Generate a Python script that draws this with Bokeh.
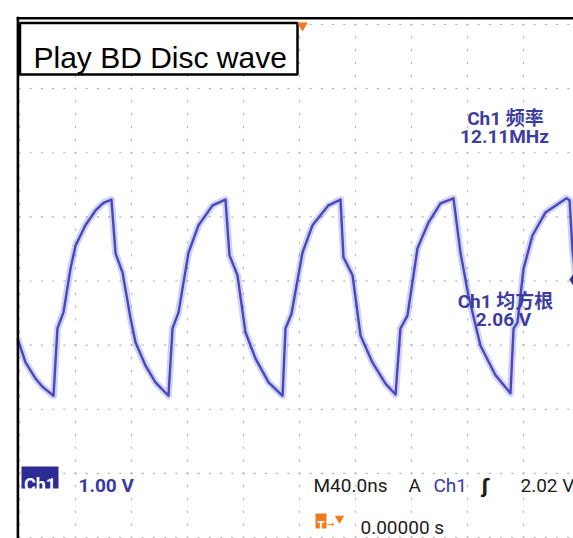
import numpy as np
from bokeh.plotting import figure
from bokeh.models import Range1d, Span, Label, ColumnDataSource
from bokeh.embed import file_html
from bokeh.resources import INLINE

# ---------------- data ----------------
# time in ns (40 ns/div), voltage in V (1.00 V/div, screen centre ~2 V)
time_ns = [-1.4, 4.3, 11.4, 16.4, 24.3, 27.1, 31.4, 36.4, 40.0, 47.1, 54.3, 60.0, 65.7, 68.6, 73.6, 79.3, 82.9, 90.0, 97.1, 106.4,
           109.3, 113.6, 120.7, 127.9, 137.9, 147.1, 150.0, 155.7, 161.4, 168.6, 177.9, 187.9,
           190.0, 194.3, 202.1, 209.3, 220.7, 229.3, 231.4, 237.9, 243.6, 252.1, 261.4, 268.6,
           272.1, 277.1, 284.3, 292.1, 300.7, 310.0, 315.0, 320.7, 329.3, 340.0, 350.7,
           352.9, 355.7, 360.0, 366.4, 375.7, 390.7, 392.9, 395.0, 397.1]
volts = [1.10, 0.73, 0.48, 0.35, 0.21, 1.26, 1.51, 2.19, 2.55, 2.87, 3.10, 3.22, 3.27, 2.43, 2.13, 1.42, 1.04, 0.68, 0.42, 0.21,
         1.26, 1.51, 2.44, 2.87, 3.18, 3.27, 2.40, 2.09, 1.20, 0.79, 0.42, 0.21,
         1.26, 1.49, 2.44, 2.87, 3.18, 3.27, 2.37, 2.09, 1.15, 0.73, 0.40, 0.23,
         1.26, 1.46, 2.51, 2.91, 3.21, 3.29, 2.44, 1.77, 0.99, 0.53, 0.25,
         1.26, 1.35, 2.19, 2.71, 3.07, 3.29, 3.26, 2.48, 2.09]

title_text = "Play BD Disc wave"
freq_label = ["Ch1 频率", "12.11MHz"]
rms_label = ["Ch1 均方根", "2.06 V"]
ch_scale = "1.00 V"
timebase = "M40.0ns"
trig_src = "Ch1"
trig_level = "2.02 V"
trig_pos = "0.00000 s"
trigger_level_v = 2.02

# ---------------- screen mapping ----------------
NS_PER_DIV = 40.0
V_PER_DIV = 1.0
CENTER_V = 2.0
PX_DIV_X = 56.0
PX_DIV_Y = 64.125
GRID_LEFT_PX = 19.0
CENTER_PY = 280.5


def X(px):
    return (px - GRID_LEFT_PX) * NS_PER_DIV / PX_DIV_X


def Y(py):
    return CENTER_V + (CENTER_PY - py) * V_PER_DIV / PX_DIV_Y


p = figure(width=573, height=538, output_backend="svg", toolbar_location=None,
           x_axis_location=None, y_axis_location=None,
           x_range=Range1d(X(16), X(573)), y_range=Range1d(Y(538), Y(16)),
           min_border_left=16, min_border_top=16, min_border_right=0, min_border_bottom=0)
p.outline_line_color = None
p.grid.visible = False
p.background_fill_color = "white"
p.border_fill_color = "white"

# ---------------- graticule (dotted) ----------------
gx, gy = [], []
for k in range(0, 11):
    t = k * NS_PER_DIV
    for j in range(0, 41):
        gx.append(t)
        gy.append(CENTER_V - 4 * V_PER_DIV + j * V_PER_DIV / 5)
p.rect(gx, gy, width=1.2, height=2.2, width_units="screen", height_units="screen",
       color="#b4b4b4", line_color=None)
hx, hy = [], []
for m in range(-4, 5):
    v = CENTER_V + m * V_PER_DIV
    for j in range(0, 51):
        hx.append(j * NS_PER_DIV / 5)
        hy.append(v)
p.rect(hx, hy, width=2.2, height=1.2, width_units="screen", height_units="screen",
       color="#b4b4b4", line_color=None)

# ---------------- waveform ----------------
src = ColumnDataSource(dict(t=time_ns, v=volts))
p.line("t", "v", source=src, line_width=7, line_color="#6a6ad6", line_alpha=0.3, line_join="round")
p.line("t", "v", source=src, line_width=2.4, line_color="#4848bc", line_join="round")

# ---------------- frame lines ----------------
p.add_layout(Span(location=X(17.2), dimension="height", line_color="black", line_width=3))
p.add_layout(Span(location=Y(17.8), dimension="width", line_color="black", line_width=2.5))

# ---------------- title box ----------------
p.quad(left=[X(19.5)], right=[X(297)], top=[Y(22.5)], bottom=[Y(74)],
       fill_color="white", line_color="black", line_width=2.5)
p.add_layout(Label(x=X(33), y=Y(57), text=title_text, text_font="Liberation Sans",
                   text_font_size="30px", text_color="black", text_baseline="alphabetic"))

# ---------------- readouts ----------------
RO = "#3d3d9e"
FONT = "Roboto, Noto Sans CJK SC"
p.add_layout(Label(x=X(505), y=Y(118), text=freq_label[0], text_font=FONT, text_font_size="19px",
                   text_font_style="bold", text_color=RO, text_align="center", text_baseline="alphabetic"))
p.add_layout(Label(x=X(504), y=Y(136), text=freq_label[1], text_font=FONT, text_font_size="19px",
                   text_font_style="bold", text_color=RO, text_align="center", text_baseline="alphabetic"))
p.add_layout(Label(x=X(505), y=Y(301), text=rms_label[0], text_font=FONT, text_font_size="19px",
                   text_font_style="bold", text_color=RO, text_align="center", text_baseline="alphabetic"))
p.add_layout(Label(x=X(503), y=Y(319), text=rms_label[1], text_font=FONT, text_font_size="19px",
                   text_font_style="bold", text_color=RO, text_align="center", text_baseline="alphabetic"))

# ---------------- bottom status line ----------------
p.quad(left=[X(21)], right=[X(58)], top=[Y(466)], bottom=[Y(488)], fill_color="#2c2c94", line_color=None)
p.add_layout(Label(x=X(39.5), y=Y(484), text="Ch1", text_font="Roboto", text_font_size="18px",
                   text_font_style="bold", text_color="white", text_align="center", text_baseline="alphabetic"))
p.add_layout(Label(x=X(78), y=Y(485), text=ch_scale, text_font="Roboto", text_font_size="19px",
                   text_font_style="bold", text_color="#3a3aa0", text_baseline="alphabetic"))
p.add_layout(Label(x=X(313), y=Y(485), text=timebase, text_font="Roboto", text_font_size="19px",
                   text_color="#1c1c1c", text_baseline="alphabetic"))
p.add_layout(Label(x=X(408), y=Y(485), text="A", text_font="Roboto", text_font_size="19px",
                   text_color="#1c1c1c", text_baseline="alphabetic"))
p.add_layout(Label(x=X(433), y=Y(485), text=trig_src, text_font="Roboto", text_font_size="19px",
                   text_color="#3a3aa0", text_baseline="alphabetic"))
p.add_layout(Label(x=X(481), y=Y(485), text="ʃ", text_font="DejaVu Sans", text_font_size="19px",
                   text_font_style="bold", text_color="#1c1c1c", text_baseline="alphabetic"))
p.add_layout(Label(x=X(520), y=Y(485), text=trig_level, text_font="Roboto", text_font_size="19px",
                   text_color="#1c1c1c", text_baseline="alphabetic"))

# trigger position readout
p.quad(left=[X(315)], right=[X(326)], top=[Y(513)], bottom=[Y(528)], fill_color="#f07a1e", line_color=None)
p.add_layout(Label(x=X(320.5), y=Y(525), text="T", text_font="Roboto", text_font_size="12px",
                   text_font_style="bold", text_color="white", text_align="center", text_baseline="alphabetic"))
p.add_layout(Label(x=X(326.5), y=Y(523), text="→", text_font="DejaVu Sans", text_font_size="9px",
                   text_color="#f07a1e", text_baseline="alphabetic"))
p.scatter([X(339)], [Y(518)], marker="inverted_triangle", size=8, color="#f07a1e")
p.add_layout(Label(x=X(360), y=Y(527), text=trig_pos, text_font="Roboto", text_font_size="19px",
                   text_color="#1c1c1c", text_baseline="alphabetic"))

# trigger position marker (top) and trigger level marker (right)
p.scatter([X(302)], [Y(25)], marker="inverted_triangle", size=9, color="#f07a1e")
p.scatter([X(574)], [trigger_level_v], marker="diamond", size=14, color="#3535a0")

open("out.html", "w").write(file_html(p, INLINE))
